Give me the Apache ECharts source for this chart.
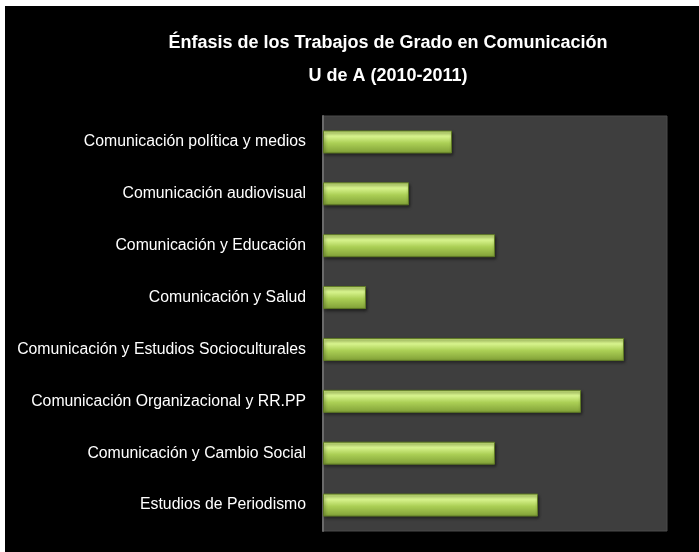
<!DOCTYPE html>
<html>
<head>
<meta charset="utf-8">
<script src="https://cdn.jsdelivr.net/npm/echarts@6/dist/echarts.min.js"></script>
<style>
  html, body { margin: 0; padding: 0; background: #fff; }
  #chart { position: absolute; left: 5px; top: 6px; width: 694px; height: 546px; background: #000; }
</style>
</head>
<body>
<div id="chart"></div>
<script>
// categories listed bottom -> top (category axis starts at the bottom)
var categories = [
  'Estudios de Periodismo',
  'Comunicación y Cambio Social',
  'Comunicación Organizacional y RR.PP',
  'Comunicación y Estudios Socioculturales',
  'Comunicación y Salud',
  'Comunicación y Educación',
  'Comunicación audiovisual',
  'Comunicación política y medios'
];
var trabajos = [5, 4, 6, 7, 1, 4, 2, 3];
var axisMax = 8;

var chart = echarts.init(document.getElementById('chart'));
var font = '"Liberation Sans", Arial, sans-serif';

var option = {
  backgroundColor: '#000',
  animation: false,
  title: {
    text: 'Énfasis de los Trabajos de Grado en Comunicación\nU de A (2010-2011)',
    left: 378,
    top: 16,
    textAlign: 'center',
    textStyle: {
      color: '#fff',
      fontFamily: font,
      fontWeight: 'bold',
      fontSize: 18,
      lineHeight: 33
    }
  },
  grid: {
    left: 318,
    right: 32,
    top: 110,
    bottom: 21,
    show: true,
    backgroundColor: '#3e3e3e',
    borderColor: '#4a4a4a',
    borderWidth: 1
  },
  xAxis: {
    type: 'value',
    min: 0,
    max: axisMax,
    show: false
  },
  yAxis: {
    type: 'category',
    data: categories,
    axisTick: { show: false },
    axisLine: { show: true, lineStyle: { color: '#6a6a6a', width: 2 } },
    axisLabel: {
      color: '#fff',
      fontFamily: font,
      fontSize: 15.8,
      margin: 17
    }
  },
  series: [{
    type: 'bar',
    data: trabajos,
    barWidth: 23,
    itemStyle: {
      color: new echarts.graphic.LinearGradient(0, 0, 0, 1, [
        { offset: 0, color: '#c2e070' },
        { offset: 0.25, color: '#d8f48e' },
        { offset: 0.55, color: '#abcf55' },
        { offset: 1, color: '#7f9e36' }
      ]),
      borderColor: '#5f7a25',
      borderWidth: 1,
      shadowColor: 'rgba(0,0,0,0.5)',
      shadowBlur: 3,
      shadowOffsetX: 1,
      shadowOffsetY: 2
    }
  }]
};
chart.setOption(option);
</script>
</body>
</html>
